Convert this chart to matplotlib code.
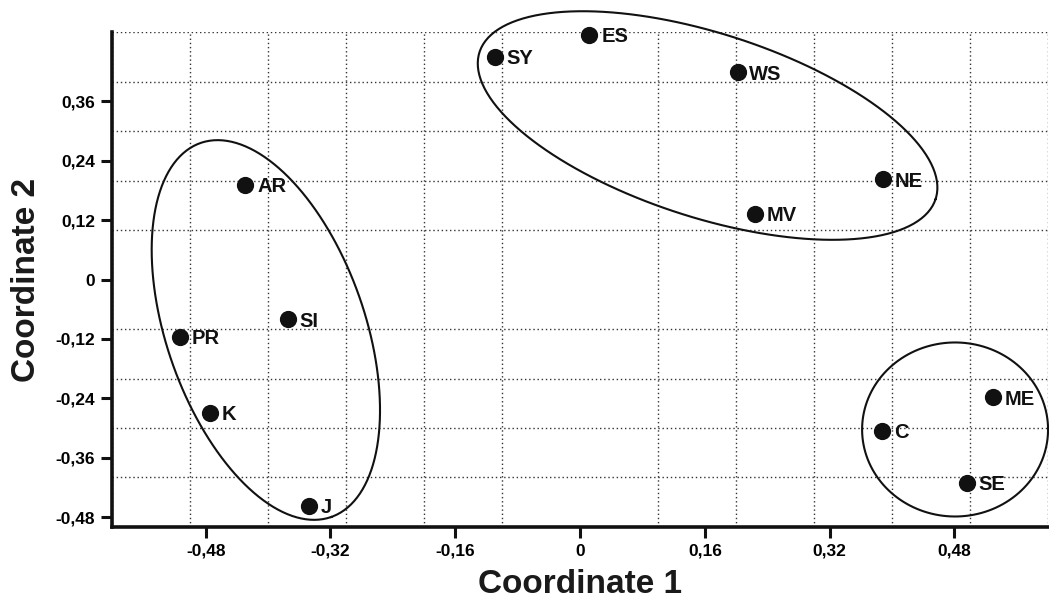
import numpy as np
from matplotlib import pyplot as plt
from matplotlib.ticker import MultipleLocator

plt.rcParams['font.family'] = ['Liberation Sans', 'DejaVu Sans']
plt.rcParams['font.weight'] = 'bold'

# sites and their MDS coordinates
names = ['SY', 'ES', 'WS', 'NE', 'MV', 'AR', 'SI', 'PR', 'K', 'J', 'ME', 'C', 'SE']
coord1 = [-0.109, 0.012, 0.202, 0.388, 0.224, -0.429, -0.375, -0.513, -0.475, -0.347, 0.529, 0.387, 0.496]
coord2 = [0.450, 0.494, 0.419, 0.203, 0.133, 0.191, -0.080, -0.116, -0.269, -0.457, -0.238, -0.306, -0.411]

x_ticks = [-0.48, -0.32, -0.16, 0, 0.16, 0.32, 0.48]
x_tick_labels = ['-0,48', '-0,32', '-0,16', '0', '0,16', '0,32', '0,48']
y_ticks = [-0.48, -0.36, -0.24, -0.12, 0, 0.12, 0.24, 0.36]
y_tick_labels = ['-0,48', '-0,36', '-0,24', '-0,12', '0', '0,12', '0,24', '0,36']

# cluster outlines: centre and two conjugate semi-axes (data units)
cluster_centres = [(0.1635, 0.3111), (-0.4028, -0.1020), (0.4808, -0.3030)]
cluster_u = [(0.2924, -0.1483), (0.0838, -0.3778), (0.1192, 0.0)]
cluster_v = [(-0.0362, -0.1770), (-0.1200, -0.0663), (0.0, 0.1758)]


if __name__ == '__main__':
    fig = plt.figure(figsize=(10.49, 6.02), dpi=100)
    ax = fig.add_axes([0.1068, 0.1246, 0.8923, 0.8222])
    ax.set_xlim(-0.6, 0.6)
    ax.set_ylim(-0.5, 0.5)

    # dotted grid every 0.1, labelled ticks on another step
    ax.xaxis.set_minor_locator(MultipleLocator(0.1))
    ax.yaxis.set_minor_locator(MultipleLocator(0.1))
    ax.grid(which='minor', linestyle=(0, (1, 2)), color='#333333', linewidth=1.0)
    ax.grid(which='major', visible=False)
    ax.tick_params(which='minor', length=0)
    ax.set_axisbelow(True)

    ax.set_xticks(x_ticks)
    ax.set_xticklabels(x_tick_labels)
    ax.set_yticks(y_ticks)
    ax.set_yticklabels(y_tick_labels)
    ax.tick_params(which='major', length=8, width=2.2, labelsize=12.5, pad=4, color='#111111')

    for side in ['top', 'right']:
        ax.spines[side].set_visible(False)
    for side in ['left', 'bottom']:
        ax.spines[side].set_linewidth(2.6)
        ax.spines[side].set_color('#111111')

    ax.scatter(coord1, coord2, s=130, color='#111111', zorder=3, clip_on=False)
    for name, x, y in zip(names, coord1, coord2):
        ax.annotate(name, (x, y), xytext=(8.5, 0), textcoords='offset points',
                    ha='left', va='center_baseline', fontsize=14.5, fontweight='bold',
                    color='#111111')

    t = np.linspace(0, 2 * np.pi, 300)
    for (cx, cy), (ux, uy), (vx, vy) in zip(cluster_centres, cluster_u, cluster_v):
        ax.plot(cx + ux * np.cos(t) + vx * np.sin(t), cy + uy * np.cos(t) + vy * np.sin(t),
                color='#111111', linewidth=1.5, clip_on=False, zorder=2)

    ax.set_xlabel('Coordinate 1', fontsize=24, fontweight='bold', color='#1a1a1a')
    ax.set_ylabel('Coordinate 2', fontsize=24, fontweight='bold', color='#1a1a1a')
    ax.xaxis.set_label_coords(0.5, -0.085)
    ax.yaxis.set_label_coords(-0.075, 0.5)

    plt.savefig('out.png', dpi=100)
